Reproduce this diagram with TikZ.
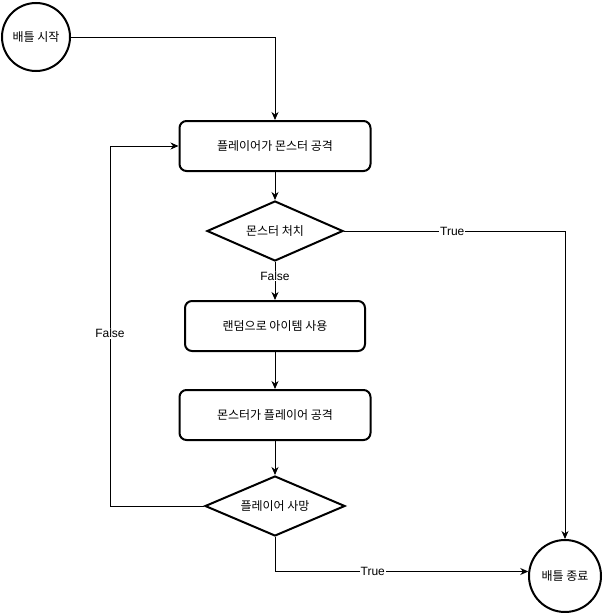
\documentclass[tikz,border=0pt]{standalone}
\usepackage{fontspec}
\setmainfont{Liberation Sans}
\newfontfamily\kr{Noto Sans CJK KR}
\usetikzlibrary{shapes.geometric,arrows.meta}
\tikzset{
    >={Stealth[length=8pt,width=7pt,inset=2.5pt]},
    flow/.style = {->, line width=1pt},
    terminal/.style = {draw, circle, line width=2pt, minimum size=68pt, inner sep=0pt, font=\kr\fontsize{12}{14}\selectfont},
    task/.style = {draw, rounded corners=7pt, line width=2pt, minimum height=50pt, inner sep=0pt, font=\kr\fontsize{12}{14}\selectfont},
    decision/.style = {draw, diamond, aspect=2.3, line width=2pt, minimum width=138pt, minimum height=60pt, inner sep=0pt, font=\kr\fontsize{12}{14}\selectfont},
    lbl/.style = {fill=white, inner sep=1pt, font=\fontsize{12}{14}\selectfont},
}
\begin{document}
\begin{tikzpicture}[x=1pt, y=-1pt]
    \useasboundingbox (0,0) rectangle (603,613);

    \node (start) [terminal] at (36,37) {배틀 시작};
    \node (stop) [terminal, minimum size=72pt] at (565,576) {배틀 종료};

    \node (attack) [task, minimum width=191pt] at (275,146) {플레이어가 몬스터 공격};
    \node (kill) [decision, minimum width=136pt] at (275,231) {몬스터 처치};
    \node (item) [task, minimum width=180pt] at (275,326) {랜덤으로 아이템 사용};
    \node (hit) [task, minimum width=191pt] at (275,415) {몬스터가 플레이어 공격};
    \node (dead) [decision, minimum width=140pt] at (275,506) {플레이어 사망};

    \coordinate (loop) at (110,506);

    \draw [flow] (start) -| (attack.north);
    \draw [flow] (attack) -- (kill);
    \draw [flow] (kill.east) -| node (killtrue) [lbl, pos=0.245] {True} (stop.north);
    \draw [flow] (kill) -- node (killfalse) [lbl, pos=0.37] {False} (item);
    \draw [flow] (item) -- (hit);
    \draw [flow] (hit) -- (dead);
    \draw [flow] (dead.west) -- (loop) |- node (deadfalse) [lbl, pos=0.24] {False} (attack.west);
    \draw [flow] (dead.south) |- node (deadtrue) [lbl, pos=0.693] {True} (stop.173);
\end{tikzpicture}
\end{document}
